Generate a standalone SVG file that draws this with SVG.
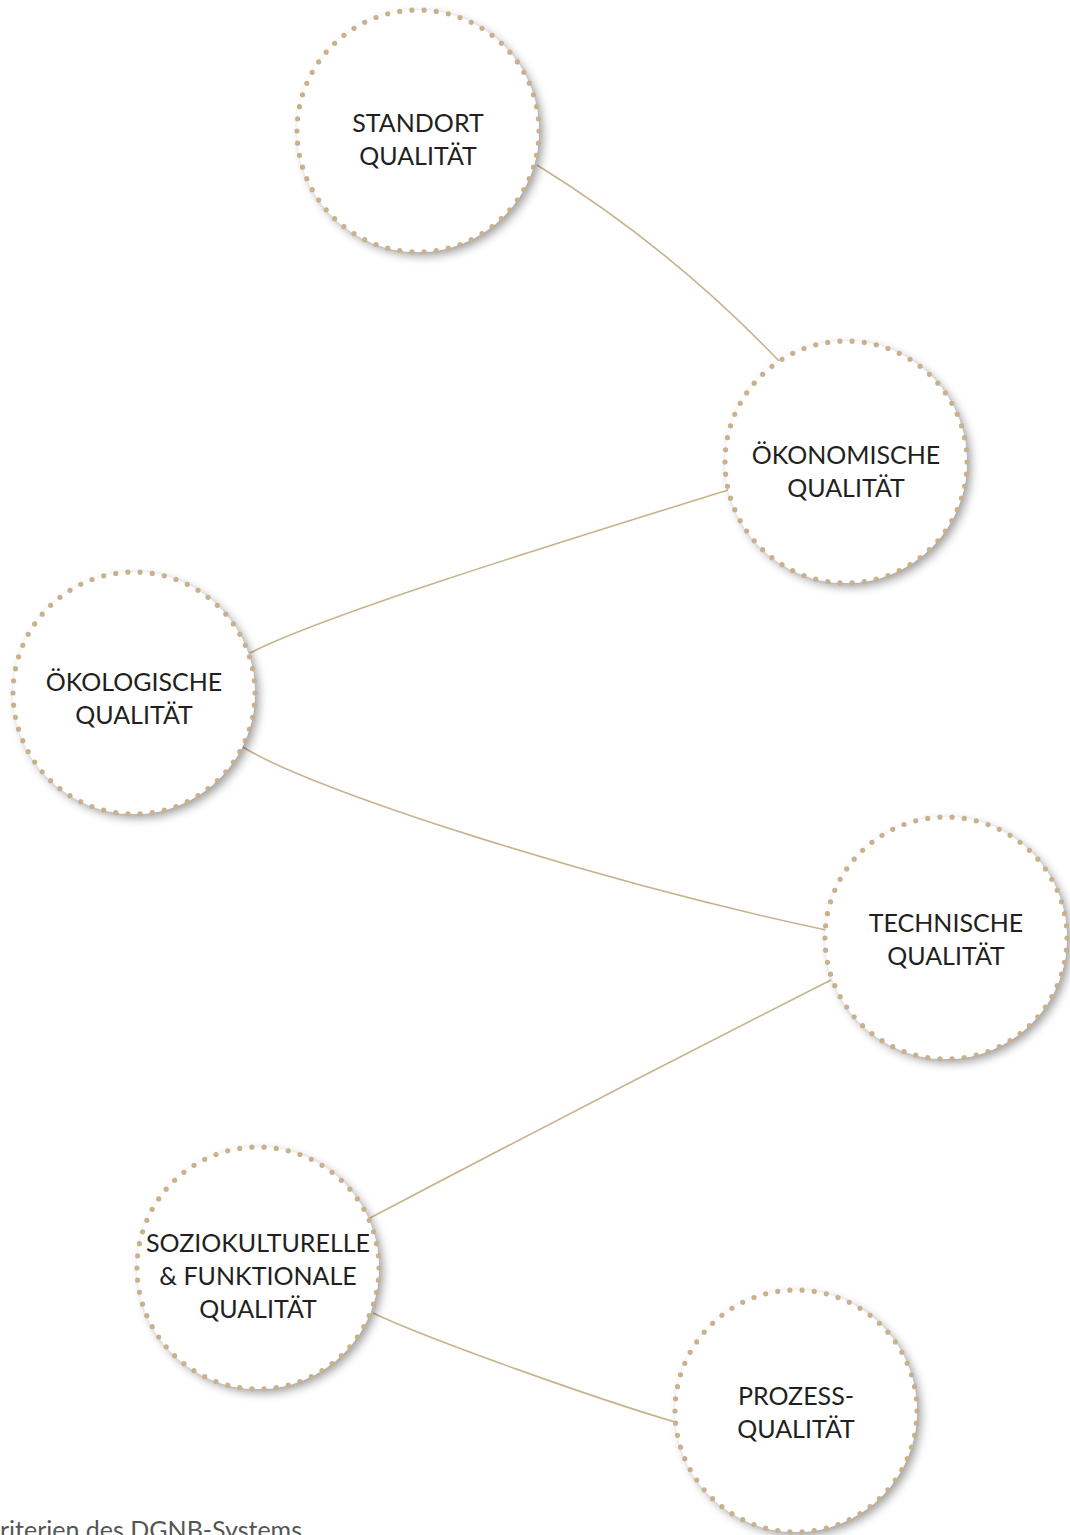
<svg xmlns="http://www.w3.org/2000/svg" width="1070" height="1535" viewBox="0 0 1070 1535">
<defs>
<filter id="sh" x="-20%" y="-20%" width="150%" height="150%">
<feDropShadow dx="4" dy="4" stdDeviation="5" flood-color="#000" flood-opacity="0.38"/>
</filter>
<style>
.bg{fill:#fff;filter:url(#sh)}
.dots{fill:none;stroke:#c9b18e;stroke-width:5.2;stroke-linecap:round;stroke-dasharray:0 1}
.lbl{font-family:Lato,"Liberation Sans",sans-serif;font-size:25px;fill:#231f20;text-anchor:middle}
.con{fill:none;stroke:#c8b38f;stroke-width:1.6}
.cap{font-family:Lato,"Liberation Sans",sans-serif;font-size:25px;fill:#555}
</style>
</defs>
<rect width="1070" height="1535" fill="#fff"/>
<g id="connectors">
<path class="con" d="M537,165 Q670,247 779,361"/>
<path class="con" d="M728,490 C600,530 330,612 250,653"/>
<path class="con" d="M243,747 C310,790 600,882 826,930"/>
<path class="con" d="M831,980 Q600,1097 370,1218"/>
<path class="con" d="M373,1313 C430,1340 600,1400 675,1422"/>
</g>
<g id="standort">
<circle class="bg" cx="418" cy="131" r="121"/>
<circle class="dots" cx="418" cy="131" r="121" pathLength="62"/>
<text class="lbl" x="418" y="132">STANDORT</text>
<text class="lbl" x="418" y="165">QUALITÄT</text>
</g>
<g id="oekonomische">
<circle class="bg" cx="846" cy="462" r="121"/>
<circle class="dots" cx="846" cy="462" r="121" pathLength="62"/>
<text class="lbl" x="846" y="464">ÖKONOMISCHE</text>
<text class="lbl" x="846" y="497">QUALITÄT</text>
</g>
<g id="oekologische">
<circle class="bg" cx="134" cy="693" r="121"/>
<circle class="dots" cx="134" cy="693" r="121" pathLength="62"/>
<text class="lbl" x="134" y="691">ÖKOLOGISCHE</text>
<text class="lbl" x="134" y="724">QUALITÄT</text>
</g>
<g id="technische">
<circle class="bg" cx="946" cy="938" r="121"/>
<circle class="dots" cx="946" cy="938" r="121" pathLength="62"/>
<text class="lbl" x="946" y="932">TECHNISCHE</text>
<text class="lbl" x="946" y="965">QUALITÄT</text>
</g>
<g id="soziokulturelle">
<circle class="bg" cx="258" cy="1268" r="121"/>
<circle class="dots" cx="258" cy="1268" r="121" pathLength="62"/>
<text class="lbl" x="258" y="1252">SOZIOKULTURELLE</text>
<text class="lbl" x="258" y="1285">&amp; FUNKTIONALE</text>
<text class="lbl" x="258" y="1318">QUALITÄT</text>
</g>
<g id="prozess">
<circle class="bg" cx="796" cy="1411" r="121"/>
<circle class="dots" cx="796" cy="1411" r="121" pathLength="62"/>
<text class="lbl" x="796" y="1405">PROZESS-</text>
<text class="lbl" x="796" y="1438">QUALITÄT</text>
</g>
<text class="cap" x="0" y="1539">riterien des DGNB-Systems</text>
</svg>
